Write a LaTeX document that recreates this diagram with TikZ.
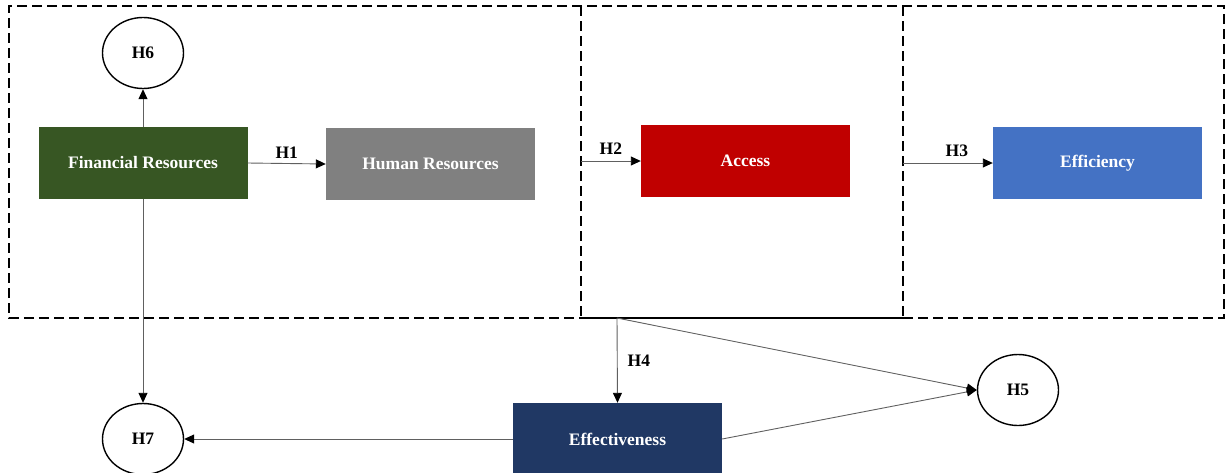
\documentclass[tikz,border=0pt]{standalone}
\usepackage{fontspec}
\setmainfont{Liberation Serif}
\usetikzlibrary{arrows.meta,shapes.geometric}
\definecolor{fingreen}{HTML}{375623}
\definecolor{humgray}{HTML}{808080}
\definecolor{accred}{HTML}{C00000}
\definecolor{effblue}{HTML}{4472C4}
\definecolor{effnavy}{HTML}{203864}
\definecolor{linegray}{HTML}{606060}
\begin{document}
\begin{tikzpicture}[x=1pt,y=-1pt,
  txt/.style={font=\bfseries\fontsize{17.5}{19}\selectfont},
  box/.style={rectangle,minimum width=209pt,minimum height=72pt,inner sep=0pt,text=white,txt},
  hyp/.style={ellipse,draw=black,line width=1.4pt,minimum width=81pt,minimum height=71pt,inner sep=0pt,fill=white,txt},
  conn/.style={draw=linegray,line width=0.9pt,-{Triangle[length=10pt,width=9pt,color=black]}},
  region/.style={draw=black,line width=1.6pt,dash pattern=on 10pt off 5pt},
  lbl/.style={txt,text=black,inner sep=2pt}]
\useasboundingbox (0,0) rectangle (1227,472);
% dashed regions
\draw[region] (903,318) -- (1224,318) -- (1224,6) -- (9,6) -- (9,318) -- (581,318);
\draw[region] (581,6) -- (581,318);
\draw[region] (903,6) -- (903,318);
\draw[line width=1.6pt] (581,318) -- (903,318);
% nodes
\node[box,fill=fingreen] (fin) at (143,163) {Financial Resources};
\node[box,fill=humgray] (hum) at (430.5,164) {Human Resources};
\node[box,fill=accred] (acc) at (745.5,161) {Access};
\node[box,fill=effblue] (eff) at (1097.5,163) {Efficiency};
\node[box,fill=effnavy] (effv) at (617.5,439) {Effectiveness};
\node[hyp] (h6) at (143,53) {H6};
\node[hyp] (h7) at (143,439) {H7};
\node[hyp] (h5) at (1018,390) {H5};
% free ends
\coordinate (h2s) at (581,161);
\coordinate (h3s) at (903,163);
\coordinate (split) at (617,318);
% connectors
\draw[conn] (fin.north) -- (h6.south);
\draw[conn] (fin.south) -- (h7.north);
\draw[conn] (fin.east) -- node[lbl,above=3pt] {H1} (hum.west);
\draw[conn] (h2s) -- node[lbl,above=4pt] {H2} (acc.west);
\draw[conn] (h3s) -- node[lbl,above=4pt,pos=0.6] {H3} (eff.west);
\draw[conn] (split) -- node[lbl,right=8pt] {H4} (effv.north);
\draw[conn] (split) -- (h5.west);
\draw[conn] (effv.east) -- (h5.west);
\draw[conn] (effv.west) -- (h7.east);
\end{tikzpicture}
\end{document}
